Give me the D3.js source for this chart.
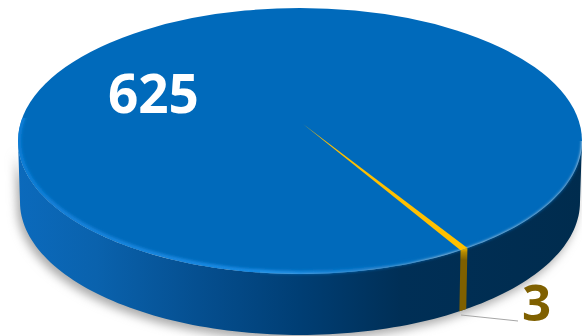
<!DOCTYPE html>
<html>
<head>
<meta charset="utf-8">
<script src="https://cdn.jsdelivr.net/npm/d3@7"></script>
<style>
html,body{margin:0;padding:0;background:#fff;overflow:hidden}
svg{display:block}
text{font-family:"Open Sans",sans-serif;font-weight:700}
</style>
</head>
<body>
<svg id="chart" width="582" height="336"></svg>
<script>
// Two-slice pie drawn as a thick tilted disc
const categories = ["Main", "Minor"];
const values = [625, 3];
const sliceColors = ["#006ABB", "#FFC000"];
const labelColors = ["#FFFFFF", "#7F6000"];
const labelSizes = [53, 51];

const W = 582, H = 336;
const cx = 300, cy = 141, rx = 282, ry = 133, depth = 61, rxBase = 280;
const apex = [303, 124];           // vanishing centre of the tilted top face
const rotation = 145.3 * Math.PI / 180;

const svg = d3.select("#chart");
const defs = svg.append("defs");

const rim = a => [cx + rx * Math.sin(a), cy - ry * Math.cos(a)];
const base = a => [cx + rxBase * Math.sin(a), cy + depth - ry * Math.cos(a)];
const line = d3.line();
const sample = (fn, a0, a1, n = 120) => d3.range(n + 1).map(i => fn(a0 + (a1 - a0) * i / n));

const pie = d3.pie().sort(null).startAngle(rotation).endAngle(rotation + 2 * Math.PI);
const arcs = pie(values);
const small = arcs[1];

// Outline of the disc's side wall between two angles
function wallPath(a0, a1) {
  return line(sample(rim, a0, a1).concat(sample(base, a1, a0))) + "Z";
}
function facePath(d) {
  return line([apex].concat(sample(rim, d.startAngle, d.endAngle, 8))) + "Z";
}

const blur = (id, s) => defs.append("filter").attr("id", id)
  .attr("x", "-10%").attr("y", "-10%").attr("width", "120%").attr("height", "120%")
  .append("feGaussianBlur").attr("stdDeviation", s);
blur("soft", 5);
blur("edge", 1.6);
blur("faceEdge", 1.5);

const gradient = (id, stops, x1 = 18, x2 = 582, y1 = 0, y2 = 0) => {
  const g = defs.append("linearGradient").attr("id", id)
    .attr("gradientUnits", "userSpaceOnUse")
    .attr("x1", x1).attr("x2", x2).attr("y1", y1).attr("y2", y2);
  stops.forEach(([o, c, a]) => g.append("stop").attr("offset", o)
    .attr("stop-color", c).attr("stop-opacity", a === undefined ? 1 : a));
};
gradient("wall", [[0, "#0B6ABC"], [0.14, "#0A62AD"], [0.32, "#054F90"], [0.5, "#003E74"], [0.68, "#002F56"], [1, "#002C4E"]]);
gradient("bevel", [[0, "#0F80DA"], [0.2, "#1A88E2"], [0.45, "#1E90EA"], [0.62, "#0F7CD0", 0.7], [0.78, "#006ABB", 0.1], [1, "#006ABB", 0]]);
gradient("goldWall", [[0, "#FFC000"], [0.4, "#B58A00"], [1, "#7F6000"]], 0, 0, 247, 260);

// Front-right stretch of the rim stays blurred; everything else keeps a crisp edge
const softZone = defs.append("clipPath").attr("id", "softZone");
softZone.append("rect").attr("x", 260).attr("y", cy).attr("width", W - 260).attr("height", H - cy);
const crispZone = defs.append("clipPath").attr("id", "crispZone");
crispZone.append("rect").attr("x", 0).attr("y", 0).attr("width", W).attr("height", cy);
crispZone.append("rect").attr("x", 0).attr("y", cy).attr("width", 260).attr("height", H - cy);
defs.append("clipPath").attr("id", "bevelBand")
  .append("rect").attr("x", 0).attr("y", 118).attr("width", W).attr("height", H - 118);
defs.append("clipPath").attr("id", "topFace")
  .append("ellipse").attr("cx", cx).attr("cy", cy).attr("rx", rx).attr("ry", ry);

// Soft drop shadow under the disc
svg.append("path")
  .attr("d", wallPath(Math.PI / 2, 3 * Math.PI / 2))
  .attr("transform", "translate(-3,5)")
  .attr("fill", "#ABABAB")
  .attr("filter", "url(#soft)");

// Side wall
svg.append("path")
  .attr("d", wallPath(Math.PI / 2, 3 * Math.PI / 2))
  .attr("fill", "url(#wall)");

// Top face
const faceEllipse = (parent) => parent.append("ellipse")
  .attr("cx", cx).attr("cy", cy).attr("rx", rx).attr("ry", ry)
  .attr("fill", sliceColors[0]);
faceEllipse(svg.append("g").attr("clip-path", "url(#softZone)"))
  .attr("filter", "url(#faceEdge)");
faceEllipse(svg.append("g").attr("clip-path", "url(#crispZone)"));

// Side wall of the small slice, glowing where it meets the top
svg.append("path")
  .attr("d", wallPath(small.startAngle, small.endAngle))
  .attr("fill", "url(#goldWall)");

// Bright bevel running along the front edge of the top face
svg.append("g").attr("clip-path", "url(#bevelBand)")
  .append("g").attr("clip-path", "url(#topFace)")
  .append("ellipse")
  .attr("cx", cx).attr("cy", cy).attr("rx", rx - 1).attr("ry", ry - 1)
  .attr("fill", "none").attr("stroke", "url(#bevel)").attr("stroke-width", 4)
  .attr("filter", "url(#edge)");

svg.append("path")
  .attr("d", facePath(small))
  .attr("fill", sliceColors[1]);

// Value labels
svg.append("line")
  .attr("x1", 461).attr("y1", 315).attr("x2", 518).attr("y2", 321)
  .attr("stroke", "#A6A6A6").attr("stroke-width", 1);

svg.selectAll("text.value").data(values).join("text")
  .attr("class", "value")
  .attr("x", (d, i) => [108, 522][i])
  .attr("y", (d, i) => [113, 321][i])
  .attr("font-size", (d, i) => labelSizes[i])
  .attr("fill", (d, i) => labelColors[i])
  .text(d => d);
</script>
</body>
</html>
